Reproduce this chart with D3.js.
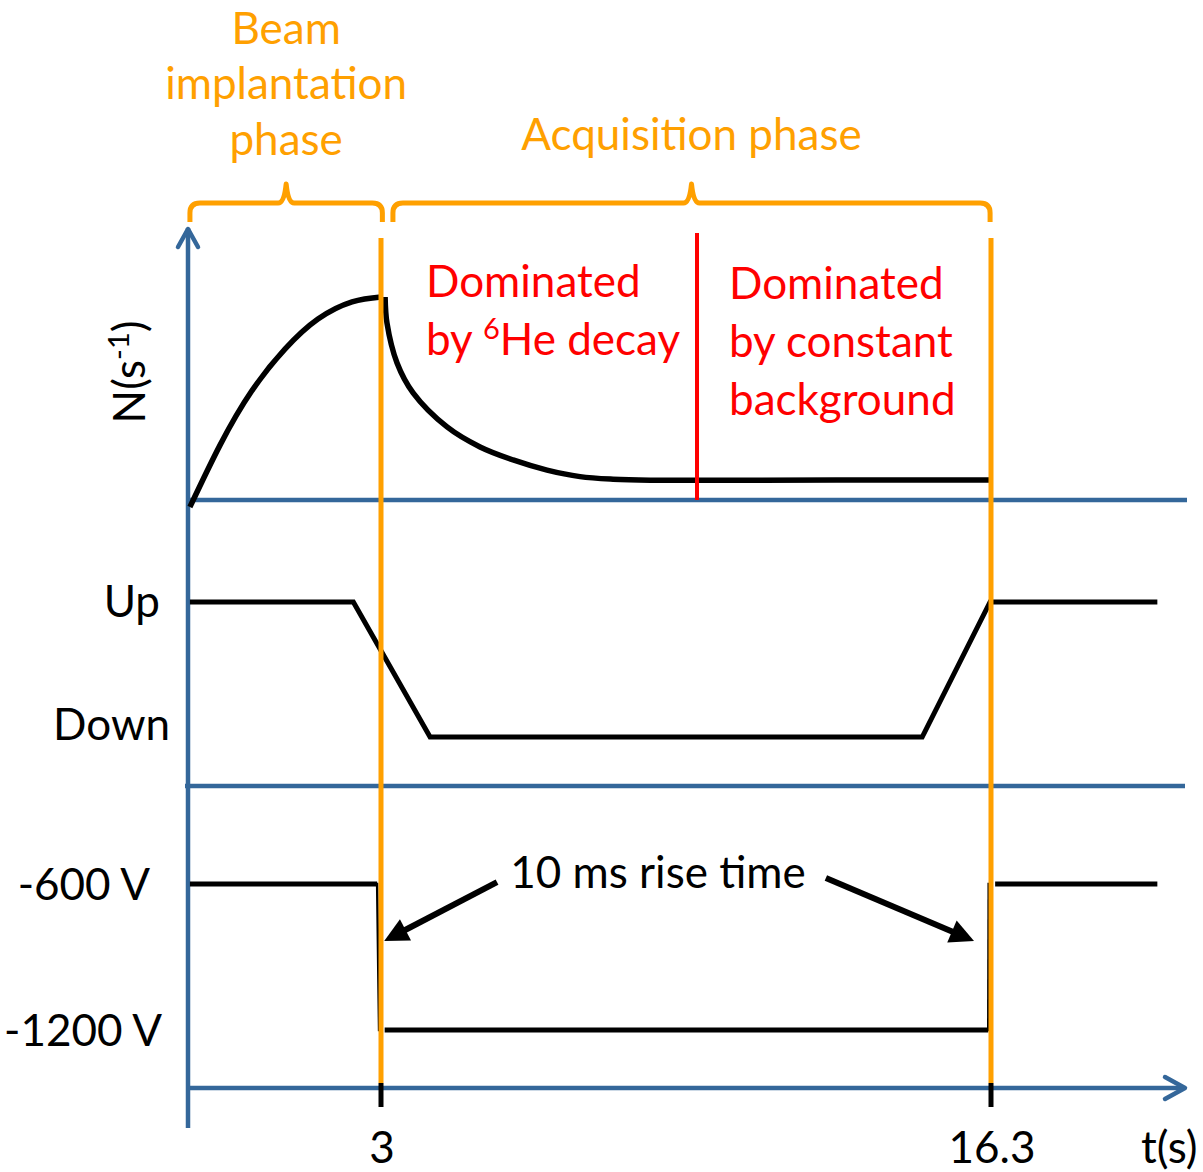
<!DOCTYPE html>
<html>
<head>
<meta charset="utf-8">
<script src="https://cdn.jsdelivr.net/npm/d3@7"></script>
<style>
  html, body { margin: 0; padding: 0; background: #fff; }
  svg { display: block; }
  text { font-family: Lato, "Open Sans", "DejaVu Sans", sans-serif; }
</style>
</head>
<body>
<svg id="chart" width="1203" height="1172"></svg>
<script>
// ---- data ----
// time axis: schematic, with breakpoints at end of implantation and end of acquisition
const timeBreaks = [0, 3, 16.3, 20.5];
const timeTicks = [3, 16.3];
const timeTickLabels = ["3", "16.3"];

// count rate N (arbitrary units) during implantation (rise) and acquisition (decay + background)
const riseCurve = [[0.03, -0.27], [0.50, 2.12], [0.99, 4.19], [1.51, 5.81], [2.02, 6.96], [2.55, 7.62], [3.0, 7.81]];
const decayCurve = [[3.09, 7.81], [3.13, 6.81], [3.35, 5.27], [3.70, 4.12], [4.44, 2.81], [5.16, 2.04],
                    [5.88, 1.54], [6.62, 1.15], [7.34, 0.9], [8.06, 0.8], [8.87, 0.76], [9.80, 0.76],
                    [16.28, 0.77]];
const regimeSplit = 9.89; // decay-dominated vs background-dominated

// detector position
const magnetStates = ["Up", "Down"];
const magnetSeries = [[0.03, "Up"], [2.57, "Up"], [4.07, "Down"], [14.8, "Down"], [16.28, "Up"], [19.92, "Up"]];

// voltage
const voltageLevels = [-600, -1200];
const voltageLabels = ["-600 V", "-1200 V"];
const voltageRuns = [
  [[0.03, -600], [2.94, -600], [2.97, -1200]],
  [[3.08, -1200], [16.24, -1200], [16.25, -600]],
  [[16.39, -600], [19.92, -600]]
];
const riseArrows = [
  { from: [5.53, -592], to: [3.07, -834] },
  { from: [12.7, -575], to: [15.93, -834] }
];

// phases
const phases = [
  { start: 0.03, end: 3.03, lines: ["Beam", "implantation", "phase"] },
  { start: 3.26, end: 16.28, lines: ["Acquisition phase"] }
];

// ---- drawing ----
const svg = d3.select("#chart");
const AXIS = "#34679a", ORANGE = "#ffa000", RED = "#ff0000", BLACK = "#000";
const FS = 44;

const x = d3.scaleLinear().domain(timeBreaks).range([188, 381, 991, 1184]);
const yN = d3.scaleLinear().domain([0, 10]).range([500, 240]);
const yMag = d3.scalePoint().domain(magnetStates).range([602, 737]);
const yV = d3.scaleLinear().domain(voltageLevels).range([884, 1030]);

const yAxisTop = 228, yAxisBottom = 1128, ySep = 786, yTimeAxis = 1088;

// axes (drawn as plain strokes, styled as arrows)
const ax = svg.append("g").attr("stroke", AXIS).attr("stroke-width", 4.5).attr("fill", "none")
  .attr("stroke-linecap", "round").attr("stroke-linejoin", "round");
ax.append("line").attr("x1", x(0)).attr("x2", x(0)).attr("y1", yAxisBottom).attr("y2", yAxisTop).attr("stroke-linecap", "butt");
ax.append("path").attr("d", `M${x(0) - 10},${yAxisTop + 19}L${x(0)},${yAxisTop + 1}L${x(0) + 10},${yAxisTop + 19}`);
ax.append("line").attr("x1", x(0)).attr("x2", 1187).attr("y1", yN(0)).attr("y2", yN(0)).attr("stroke-linecap", "butt");
ax.append("line").attr("x1", 185).attr("x2", 1185).attr("y1", ySep).attr("y2", ySep).attr("stroke-linecap", "butt");
ax.append("line").attr("x1", x(0)).attr("x2", x(timeBreaks[3])).attr("y1", yTimeAxis).attr("y2", yTimeAxis).attr("stroke-linecap", "butt");
ax.append("path").attr("d", `M${x(timeBreaks[3]) - 19},${yTimeAxis - 11}L${x(timeBreaks[3]) + 1},${yTimeAxis}L${x(timeBreaks[3]) - 19},${yTimeAxis + 11}`);

// voltage steps: plateaus thick, fast edges thin (drawn before the phase lines)
const vSegs = [];
voltageRuns.forEach(s => d3.pairs(s).forEach(p => vSegs.push(p)));
svg.append("g").selectAll("line").data(vSegs).join("line")
  .attr("x1", d => x(d[0][0])).attr("y1", d => yV(d[0][1]))
  .attr("x2", d => x(d[1][0])).attr("y2", d => yV(d[1][1]))
  .attr("stroke", BLACK)
  .attr("stroke-width", d => d[0][1] === d[1][1] ? 5 : 2.5)
  .attr("stroke-linecap", d => d[0][1] === d[1][1] ? "butt" : "square");

// magnet position
const lineMag = d3.line().x(d => x(d[0])).y(d => yMag(d[1]));
svg.append("path").attr("d", lineMag(magnetSeries)).attr("fill", "none")
  .attr("stroke", BLACK).attr("stroke-width", 5).attr("stroke-linejoin", "miter");

// count rate curves
const riseLine = d3.line().x(d => x(d[0])).y(d => yN(d[1])).curve(d3.curveNatural);
const decayLine = d3.line().x(d => x(d[0])).y(d => yN(d[1])).curve(d3.curveCatmullRom.alpha(0.5));
svg.append("path").attr("d", riseLine(riseCurve)).attr("fill", "none").attr("stroke", BLACK).attr("stroke-width", 5.5);
svg.append("path").attr("d", decayLine(decayCurve)).attr("fill", "none").attr("stroke", BLACK).attr("stroke-width", 5.5);

// phase boundaries
svg.append("g").selectAll("line").data(timeTicks).join("line")
  .attr("x1", d => x(d)).attr("x2", d => x(d)).attr("y1", 238).attr("y2", 1083)
  .attr("stroke", ORANGE).attr("stroke-width", 5);

// time ticks + labels
svg.append("g").selectAll("line").data(timeTicks).join("line")
  .attr("x1", d => x(d)).attr("x2", d => x(d)).attr("y1", 1083).attr("y2", 1107)
  .attr("stroke", BLACK).attr("stroke-width", 5);
svg.append("g").selectAll("text").data(timeTicks).join("text")
  .attr("x", d => x(d) + 1).attr("y", 1163).attr("text-anchor", "middle")
  .attr("font-size", FS).attr("fill", BLACK).text((d, i) => timeTickLabels[i]);
svg.append("text").attr("x", 1141).attr("y", 1163).attr("font-size", FS).attr("fill", BLACK).text("t(s)");

// regime split line
svg.append("line").attr("x1", x(regimeSplit)).attr("x2", x(regimeSplit))
  .attr("y1", 233).attr("y2", yN(0)).attr("stroke", RED).attr("stroke-width", 4);

// rise-time arrows
const arrowG = svg.append("g");
riseArrows.forEach(a => {
  const x0 = x(a.from[0]), y0 = yV(a.from[1]), x1 = x(a.to[0]), y1 = yV(a.to[1]);
  const dx = x1 - x0, dy = y1 - y0, len = Math.hypot(dx, dy), ux = dx / len, uy = dy / len;
  const hl = 24, hw = 12;
  const bx = x1 - ux * hl, by = y1 - uy * hl;
  arrowG.append("line").attr("x1", x0).attr("y1", y0).attr("x2", bx + ux * 2).attr("y2", by + uy * 2)
    .attr("stroke", BLACK).attr("stroke-width", 6);
  arrowG.append("path")
    .attr("d", `M${x1},${y1}L${bx - uy * hw},${by + ux * hw}L${bx + uy * hw},${by - ux * hw}Z`)
    .attr("fill", BLACK);
});
svg.append("text").attr("x", 658).attr("y", 888).attr("text-anchor", "middle")
  .attr("font-size", FS).attr("fill", BLACK).text("10 ms rise time");

// phase braces and titles
const yBraceEnd = 222, yBar = 203, yTip = 184, r = 10;
const multiLineBase = [44, 99, 155];
phases.forEach(p => {
  const x0 = x(p.start), x1 = x(p.end), cx = (x0 + x1) / 2;
  const d = `M${x0},${yBraceEnd}L${x0},${yBar + r}Q${x0},${yBar} ${x0 + r},${yBar}` +
            `L${cx - 8},${yBar}Q${cx - 2},${yBar} ${cx},${yTip}Q${cx + 2},${yBar} ${cx + 8},${yBar}` +
            `L${x1 - r},${yBar}Q${x1},${yBar} ${x1},${yBar + r}L${x1},${yBraceEnd}`;
  svg.append("path").attr("d", d).attr("fill", "none").attr("stroke", ORANGE)
    .attr("stroke-width", 5).attr("stroke-linejoin", "round");
  p.lines.forEach((t, i) => {
    svg.append("text").attr("x", cx)
      .attr("y", p.lines.length > 1 ? multiLineBase[i] : 150)
      .attr("text-anchor", "middle").attr("font-size", FS).attr("fill", ORANGE).text(t);
  });
});

// regime annotations
const red1 = svg.append("text").attr("font-size", FS).attr("fill", RED);
red1.append("tspan").attr("x", 426).attr("y", 297).text("Dominated");
red1.append("tspan").attr("x", 426).attr("y", 355).text("by ");
red1.append("tspan").attr("font-size", 29).attr("dy", -16).text("6");
red1.append("tspan").attr("dy", 16).text("He decay");

const red2 = svg.append("text").attr("font-size", FS).attr("fill", RED);
["Dominated", "by constant", "background"].forEach((t, i) =>
  red2.append("tspan").attr("x", 729).attr("y", 299 + i * 58).text(t));

// y labels
const nLab = svg.append("text").attr("transform", "translate(145,372) rotate(-90)")
  .attr("text-anchor", "middle").attr("font-size", FS).attr("fill", BLACK);
nLab.append("tspan").text("N(s");
nLab.append("tspan").attr("font-size", 29).attr("dy", -16).text("-1");
nLab.append("tspan").attr("dy", 16).text(")");

const magLabelPos = { "Up": [160, 15], "Down": [170, 3] };
svg.append("g").selectAll("text").data(magnetStates).join("text")
  .attr("x", d => magLabelPos[d][0]).attr("y", d => yMag(d) + magLabelPos[d][1]).attr("text-anchor", "end")
  .attr("font-size", FS).attr("fill", BLACK).text(d => d);

const vLabelX = [150, 162];
svg.append("g").selectAll("text").data(voltageLevels).join("text")
  .attr("x", (d, i) => vLabelX[i]).attr("y", d => yV(d) + 16).attr("text-anchor", "end")
  .attr("font-size", FS).attr("fill", BLACK).text((d, i) => voltageLabels[i]);
</script>
</body>
</html>
